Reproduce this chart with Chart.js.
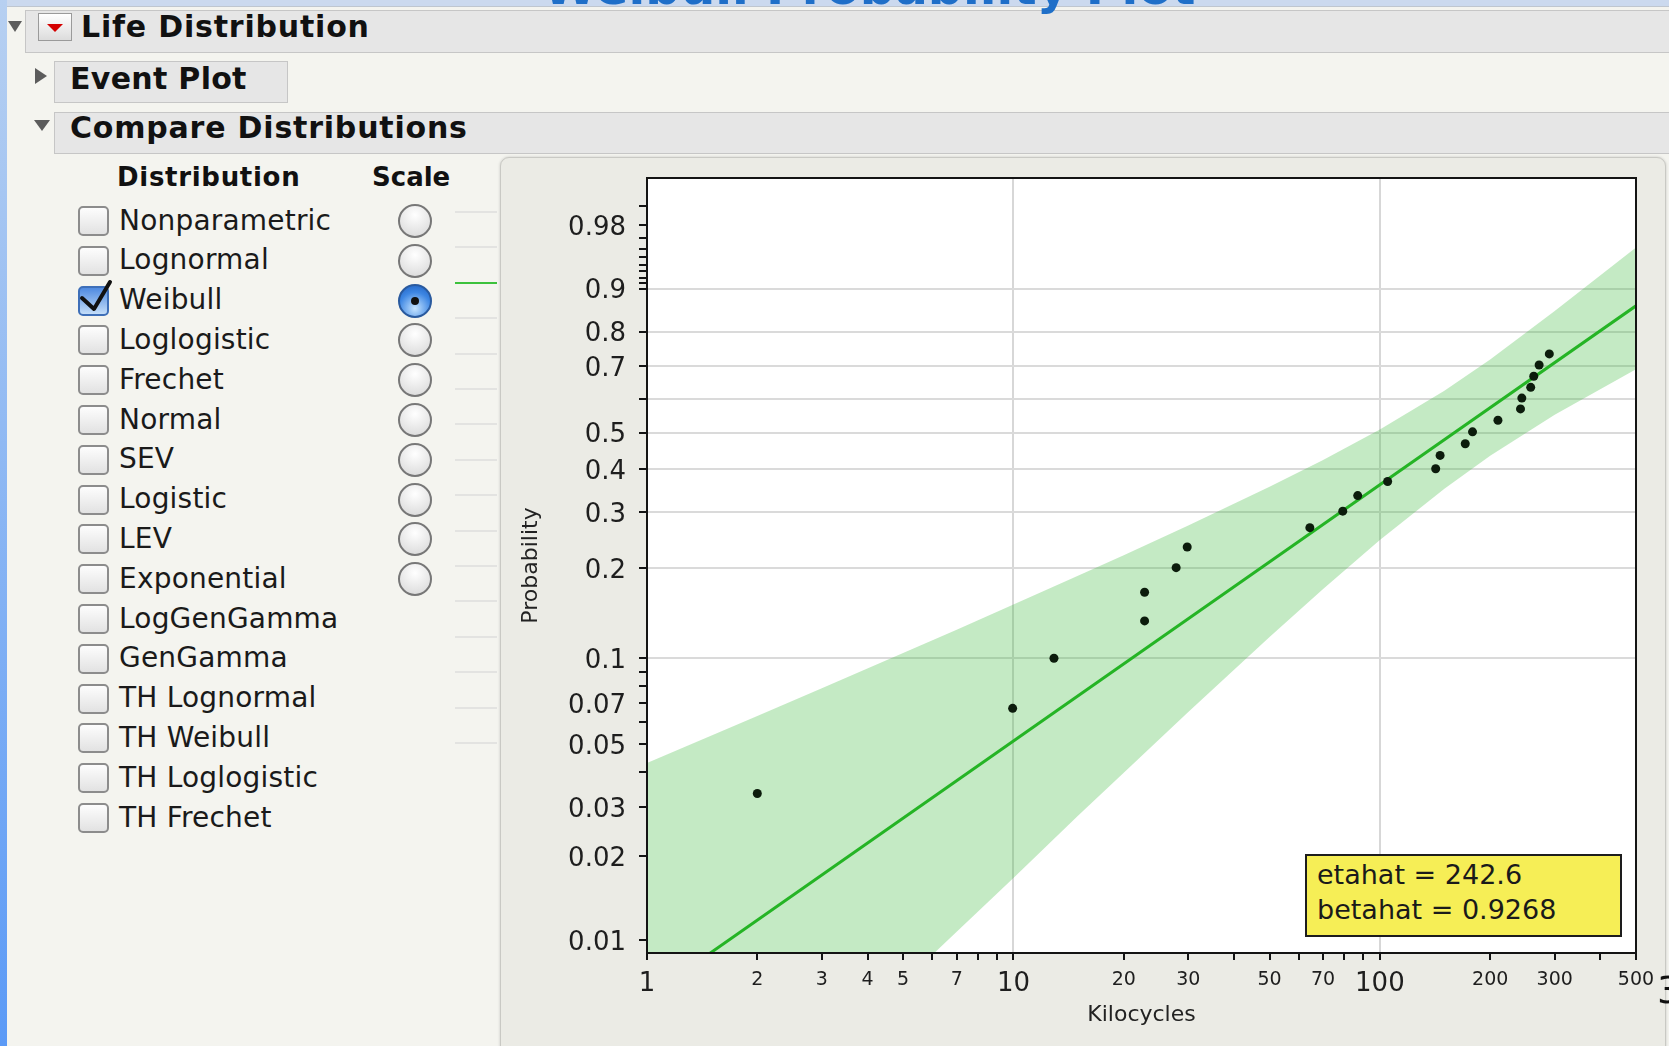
<!DOCTYPE html>
<html><head><meta charset="utf-8">
<script src="https://cdn.jsdelivr.net/npm/chart.js@4.4.1/dist/chart.umd.min.js"></script>
<style>
*{box-sizing:border-box;}
html,body{margin:0;padding:0;}
body{width:1669px;height:1046px;overflow:hidden;position:relative;background:#f4f4ef;font-family:"DejaVu Sans","Noto Sans",sans-serif;color:#161616;}
.a{position:absolute;}
.bar{position:absolute;background:#e6e6e6;border:1px solid #c6c6c6;}
.hdr{position:absolute;font-weight:bold;font-size:30px;line-height:30px;white-space:nowrap;color:#111;letter-spacing:0.8px;}
.tri-d{position:absolute;width:0;height:0;border-left:8px solid transparent;border-right:8px solid transparent;border-top:11px solid #5c5c5c;}
.tri-r{position:absolute;width:0;height:0;border-top:8px solid transparent;border-bottom:8px solid transparent;border-left:12px solid #5c5c5c;}
.lbl{position:absolute;left:119px;font-size:28px;line-height:28px;white-space:nowrap;color:#1a1a1a;letter-spacing:0.2px;}
.colh{position:absolute;font-size:26px;line-height:26px;font-weight:bold;white-space:nowrap;color:#111;}
.cb{position:absolute;left:78px;width:31px;height:30px;border:2px solid #8c8c8c;border-radius:5px;background:linear-gradient(#fdfdfd,#e2e2e2);}
.cb.on{background:linear-gradient(#4f8ae0,#c3ddf9);border-color:#3e6fb8;}
.rd{position:absolute;left:398px;width:34px;height:34px;border-radius:50%;border:2px solid #777;background:radial-gradient(circle at 50% 30%,#ffffff,#d6d6d6);}
.rd.on{background:radial-gradient(circle at 50% 75%,#c6e4ff,#3d86e3 60%,#1e5fc0);border-color:#2a5a9e;}
.rd.on::after{content:"";position:absolute;left:11px;top:11px;width:8px;height:8px;border-radius:50%;background:#111;}
.leg{position:absolute;left:455px;width:42px;height:2px;background:#e3e3e1;}
#frame{position:absolute;left:500px;top:157px;width:1166px;height:900px;border-radius:9px;background:#ebebe5;border:1px solid #c9c9c4;box-shadow:0 0 3px rgba(0,0,0,0.18);}
#cv{position:absolute;left:500px;top:158px;}
#stats{position:absolute;left:1305px;top:854px;width:317px;height:83px;border:2px solid #1d1d1d;background:#f6ee56;padding:1px 0 0 10px;font-size:27px;line-height:35px;color:#1a1a1a;white-space:nowrap;}
</style></head>
<body>
<div class="a" style="left:0;top:0;width:1669px;height:7px;background:#cbd9ee;border-bottom:1px solid #bfc6cf;"></div>
<div class="a" style="left:0;top:0;width:7px;height:1046px;background:linear-gradient(#b7d0f1,#5b9af6);"></div>
<div class="a" style="left:543px;top:-37px;font-size:49px;line-height:49px;font-weight:bold;color:#1f6fc8;white-space:nowrap;z-index:5;">Weibull Probability Plot</div>

<div class="bar" style="left:25px;top:10px;width:1660px;height:43px;"></div>
<div class="tri-d" style="left:8px;top:21px;border-left-width:7px;border-right-width:7px;"></div>
<div class="a" style="left:38px;top:13px;width:34px;height:28px;border:1px solid #9a9a9a;background:linear-gradient(#ffffff,#dcdcdc);">
  <div class="a" style="left:8px;top:10px;width:0;height:0;border-left:8px solid transparent;border-right:8px solid transparent;border-top:8px solid #d40000;"></div>
</div>
<div class="hdr" style="left:81px;top:12px;">Life Distribution</div>

<div class="bar" style="left:54px;top:61px;width:234px;height:42px;"></div>
<div class="tri-r" style="left:35px;top:68px;"></div>
<div class="hdr" style="left:70px;top:64px;letter-spacing:0.3px;">Event Plot</div>

<div class="bar" style="left:54px;top:112px;width:1630px;height:42px;"></div>
<div class="tri-d" style="left:34px;top:120px;"></div>
<div class="hdr" style="left:70px;top:113px;">Compare Distributions</div>

<div class="colh" style="left:117px;top:164px;letter-spacing:0.7px;">Distribution</div>
<div class="colh" style="left:372px;top:164px;">Scale</div>

<div id="list"></div>

<div id="frame"></div>
<canvas id="cv" width="1169" height="888" style="width:1169px;height:888px;"></canvas>
<div id="stats">etahat = 242.6<br>betahat = 0.9268</div>
<div class="a" style="left:1657px;top:971px;font-size:38px;line-height:38px;color:#111;">3</div>

<script>
// ---------- data ----------
const distNames = ["Nonparametric","Lognormal","Weibull","Loglogistic","Frechet","Normal","SEV","Logistic","LEV","Exponential","LogGenGamma","GenGamma","TH Lognormal","TH Weibull","TH Loglogistic","TH Frechet"];
const scaleCount = 10;
const checkedDist = "Weibull";

const xTickValues = [1,2,3,4,5,6,7,8,9,10,20,30,40,50,60,70,80,90,100,200,300,400,500];
const xTickLabels = [1,2,3,4,5,7,10,20,30,50,70,100,200,300,500];
const xMajorLabels = [1,10,100];
const xGridValues = [10,100];
const yTickValues = [0.01,0.02,0.03,0.04,0.05,0.06,0.07,0.08,0.09,0.1,0.2,0.3,0.4,0.5,0.6,0.7,0.8,0.9,0.91,0.92,0.93,0.94,0.95,0.96,0.97,0.98,0.99];
const yTickLabels = [0.01,0.02,0.03,0.05,0.07,0.1,0.2,0.3,0.4,0.5,0.7,0.8,0.9,0.98];
const yGridValues = [0.1,0.2,0.3,0.4,0.5,0.6,0.7,0.8,0.9];

const failureKc   = [2.0, 9.95, 12.9, 22.8, 22.8, 27.8, 29.8, 64.4, 79.2, 87.0, 105, 142, 146, 171, 179, 210, 242, 244, 258, 263, 272, 290];
const failureProb = [0.0335, 0.067, 0.100, 0.134, 0.167, 0.201, 0.234, 0.269, 0.302, 0.336, 0.369, 0.401, 0.436, 0.468, 0.502, 0.536, 0.570, 0.603, 0.636, 0.670, 0.704, 0.737];

const fitKc   = [1, 10, 100, 500];
const fitProb = [0.0062, 0.0514, 0.361, 0.864];

const bandKc    = [1, 2, 3, 5, 7, 10, 15, 20, 30, 50, 70, 100, 150, 200, 300, 500];
const bandUpper = [0.0430, 0.0630, 0.0788, 0.1042, 0.1252, 0.1521, 0.1892, 0.2204, 0.2729, 0.3562, 0.4234, 0.5088, 0.6257, 0.7206, 0.852, 0.961];
const bandLower = [0.0009, 0.0022, 0.0036, 0.0070, 0.0107, 0.0167, 0.0279, 0.0397, 0.0651, 0.1183, 0.1713, 0.2460, 0.3519, 0.4352, 0.5527, 0.6910];

const xMin = 1, xMax = 500;
const yMin = 0.00896, yMax = 0.99697;

// ---------- left panel ----------
(function(){
  const list = document.getElementById('list');
  let html = '';
  distNames.forEach((n, i) => {
    const cy = 220 + i * 39.8;
    const on = n === checkedDist;
    html += `<div class="cb${on ? ' on' : ''}" style="top:${(cy - 14).toFixed(1)}px"></div>`;
    if (on) {
      html += `<svg class="a" style="left:76px;top:${(cy - 24).toFixed(1)}px" width="40" height="40"><polyline points="6,22 18,33 34,6" fill="none" stroke="#111" stroke-width="4" stroke-linejoin="round" stroke-linecap="round"/></svg>`;
    }
    html += `<div class="lbl" style="top:${(cy - 13.5).toFixed(1)}px">${n}</div>`;
    if (i < scaleCount) {
      html += `<div class="rd${on ? ' on' : ''}" style="top:${(cy - 16).toFixed(1)}px"></div>`;
    }
  });
  for (let k = 0; k < 16; k++) {
    const y = 211 + k * 35.4;
    html += `<div class="leg" style="top:${y.toFixed(1)}px;${k === 2 ? 'background:#3cc13c;' : ''}"></div>`;
  }
  list.innerHTML = html;
})();

// ---------- Weibull probability scale ----------
function wt(p){ return Math.log(-Math.log(1 - p)); }
class WeibullProbScale extends Chart.Scale {
  determineDataLimits(){ this.min = this.options.min; this.max = this.options.max; }
  buildTicks(){ return yTickValues.map(v => ({ value: v })); }
  configure(){
    super.configure();
    this._lo = wt(this.min); this._hi = wt(this.max);
  }
  getLabelForValue(v){ return String(v); }
  getPixelForValue(v){
    if (v === null || v === undefined || isNaN(v)) return NaN;
    return this.getPixelForDecimal((wt(v) - this._lo) / (this._hi - this._lo));
  }
  getValueForPixel(px){
    const d = this.getDecimalForPixel(px);
    return 1 - Math.exp(-Math.exp(this._lo + d * (this._hi - this._lo)));
  }
}
WeibullProbScale.id = 'weibullprob';
WeibullProbScale.defaults = {};
Chart.register(WeibullProbScale);

const framePlugin = {
  id: 'frameP',
  beforeDraw(chart){
    const {ctx, chartArea: a} = chart;
    ctx.save(); ctx.fillStyle = '#ffffff';
    ctx.fillRect(a.left, a.top, a.right - a.left, a.bottom - a.top);
    ctx.restore();
  },
  afterDatasetsDraw(chart){
    const {ctx, chartArea: a} = chart;
    ctx.save(); ctx.strokeStyle = '#141414'; ctx.lineWidth = 2;
    ctx.strokeRect(a.left, a.top, a.right - a.left, a.bottom - a.top);
    ctx.restore();
  }
};

const pts = (xs, ys) => xs.map((x, i) => ({ x: x, y: ys[i] }));

new Chart(document.getElementById('cv'), {
  type: 'scatter',
  data: {
    datasets: [
      { type: 'scatter', data: pts(failureKc, failureProb), pointRadius: 4.5, pointBackgroundColor: '#0c1c0c', pointBorderWidth: 0, order: 0 },
      { type: 'line', data: pts(fitKc, fitProb), borderColor: '#25b425', borderWidth: 3, pointRadius: 0, fill: false, tension: 0, order: 1 },
      { type: 'line', data: pts(bandKc, bandUpper), borderWidth: 0, borderColor: 'rgba(0,0,0,0)', pointRadius: 0, fill: '+1', backgroundColor: 'rgba(60,185,60,0.30)', tension: 0, order: 2 },
      { type: 'line', data: pts(bandKc, bandLower), borderWidth: 0, borderColor: 'rgba(0,0,0,0)', pointRadius: 0, fill: false, tension: 0, order: 3 }
    ]
  },
  options: {
    responsive: false,
    animation: false,
    events: [],
    layout: { padding: { left: 0, top: 20, right: 33, bottom: 0 } },
    plugins: { legend: { display: false }, tooltip: { enabled: false } },
    scales: {
      x: {
        type: 'logarithmic', position: 'bottom', min: xMin, max: xMax,
        afterBuildTicks: (s) => { s.ticks = xTickValues.map(v => ({ value: v, major: xMajorLabels.includes(v) })); },
        afterFit: (s) => { s.height = 93; s.paddingLeft = 0; s.paddingRight = 0; },
        border: { display: false },
        grid: {
          color: (c) => (c.tick && xGridValues.includes(c.tick.value)) ? '#d7d7d7' : 'rgba(0,0,0,0)',
          lineWidth: 2, drawTicks: true, tickLength: 7, tickWidth: 2, tickColor: '#141414'
        },
        ticks: {
          autoSkip: false, maxRotation: 0, minRotation: 0, padding: 9, color: '#1e1e1e',
          callback: (v) => xTickLabels.includes(v) ? String(v) : '',
          font: (c) => ({ family: 'DejaVu Sans', size: (c.tick && xMajorLabels.includes(c.tick.value)) ? 26 : 19 })
        },
        title: { display: true, text: 'Kilocycles', color: '#222', font: { family: 'DejaVu Sans', size: 22 }, padding: { top: 0, bottom: 18 } }
      },
      y: {
        type: 'weibullprob', position: 'left', min: yMin, max: yMax,
        afterFit: (s) => { s.width = 147; s.paddingTop = 0; s.paddingBottom = 0; },
        border: { display: false },
        grid: {
          color: (c) => (c.tick && yGridValues.includes(c.tick.value)) ? '#dadada' : 'rgba(0,0,0,0)',
          lineWidth: 2, drawTicks: true, tickLength: 8, tickWidth: 2, tickColor: '#141414'
        },
        ticks: {
          autoSkip: false, padding: 13, labelOffset: 3, color: '#1e1e1e',
          callback: (v) => yTickLabels.includes(v) ? String(v) : '',
          font: { family: 'DejaVu Sans', size: 26 }
        },
        title: { display: true, text: 'Probability', color: '#222', font: { family: 'DejaVu Sans', size: 22 }, padding: { top: 18, bottom: 0 } }
      }
    }
  },
  plugins: [framePlugin]
});
</script>
</body></html>
